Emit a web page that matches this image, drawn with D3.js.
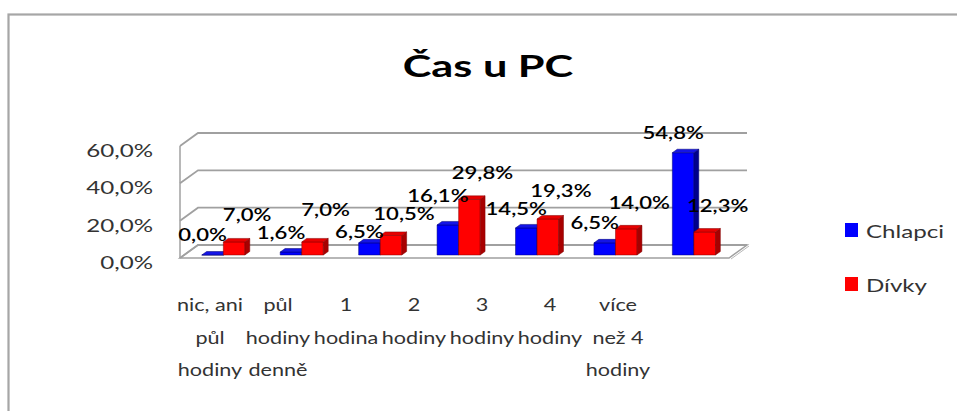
<!DOCTYPE html>
<html lang="cs">
<head>
<meta charset="utf-8">
<title>Čas u PC</title>
<script src="https://cdn.jsdelivr.net/npm/d3@7"></script>
<style>
    body { margin: 0; background: #fff; }
    text { font-family: Lato, "Open Sans", sans-serif; }
</style>
</head>
<body>
<script>
    // data
    const categoryLines = [
        ["nic, ani", "půl", "hodiny"],
        ["půl", "hodiny", "denně"],
        ["1", "hodina"],
        ["2", "hodiny"],
        ["3", "hodiny"],
        ["4", "hodiny"],
        ["více", "než 4", "hodiny"]
    ];
    const categories = categoryLines.map(l => l.join(" "));
    const seriesNames = ["Chlapci", "Dívky"];
    const chlapci = [0.0, 1.6, 6.5, 16.1, 14.5, 6.5, 54.8];
    const divky = [7.0, 7.0, 10.5, 29.8, 19.3, 14.0, 12.3];
    const yTicks = [0, 20, 40, 60];

    const W = 957, H = 411;

    const series = [
        {name: seriesNames[0], values: chlapci, front: "#0000ff", side: "#00008c", top: "#1414e6", edge: "#000070", lx: -10, ly: -20},
        {name: seriesNames[1], values: divky, front: "#ff0000", side: "#a80000", top: "#e60000", edge: "#800000", lx: 13, ly: -26}
    ];

    const fmt = v => d3.format(".1f")(v).replace(".", ",") + "%";

    const svg = d3.select("body").append("svg")
        .attr("width", W)
        .attr("height", H);

    // chart frame (cut off at right and bottom)
    svg.append("rect")
        .attr("x", 8.5).attr("y", 14.5)
        .attr("width", 1100).attr("height", 600)
        .attr("fill", "#fff")
        .attr("stroke", "#a6a6a6")
        .attr("stroke-width", 2.2);

    // the picture's text is stretched sideways, so every text gets a scale
    function stretched(g, x, y, str, sx) {
        return g.append("text")
            .attr("transform", `translate(${x},${y}) scale(${sx},1)`)
            .text(str);
    }

    // title
    stretched(svg, 488, 77, "Čas u PC", 1.42)
        .attr("text-anchor", "middle")
        .attr("font-size", 30.5)
        .attr("font-weight", "bold")
        .attr("fill", "#000");

    // scales
    const x = d3.scaleBand().domain(d3.range(categories.length))
        .range([180, 729]).paddingInner(0.45).paddingOuter(0.225);
    const xs = d3.scaleBand().domain(seriesNames).range([0, x.bandwidth()]);
    const y = d3.scaleLinear().domain([0, 60]).range([258, 146]);
    const depth = {dx: 18, dy: -13};
    const P = (px, v, f) => [px + f * depth.dx, y(v) + f * depth.dy];
    const line = d3.line();

    const plot = svg.append("g");
    const x0 = x.range()[0], x1 = x.range()[1];

    // floor
    const floorPts = [P(x0, 0, 0), P(x1, 0, 0), P(x1, 0, 1), P(x0, 0, 1)];
    plot.append("path")
        .attr("d", line(floorPts) + "Z")
        .attr("fill", "#fff")
        .attr("stroke", "#a0a0a0")
        .attr("stroke-width", 1.5);
    plot.append("path")
        .attr("d", line([P(x1, 0, 0), P(x1, 0, 1)].map(p => [p[0] + 2, p[1] + 1])))
        .attr("stroke", "#b8b8b8")
        .attr("fill", "none");

    // left wall edge and grid lines on walls
    plot.append("path")
        .attr("d", line([P(x0, 0, 0), P(x0, 60, 0)]))
        .attr("stroke", "#a0a0a0")
        .attr("stroke-width", 1.5);
    yTicks.forEach(t => {
        plot.append("path")
            .attr("d", line([P(x0, t, 0), P(x0, t, 1), P(x1, t, 1)]))
            .attr("fill", "none")
            .attr("stroke", "#a0a0a0")
            .attr("stroke-width", 1.8);
    });

    // y axis labels
    yTicks.forEach(t => {
        stretched(svg, 153, y(t) + 11, fmt(t), 1.42)
            .attr("text-anchor", "end")
            .attr("font-size", 17)
            .attr("fill", "#333");
    });

    // bars
    const f0 = 0.23, f1 = 0.5;
    categories.forEach((c, i) => {
        series.forEach(s => {
            const v = s.values[i];
            const bx0 = x(i) + xs(s.name), bx1 = bx0 + xs.bandwidth();
            const g = plot.append("g");
            g.append("path")
                .attr("d", line([P(bx0, v, f0), P(bx1, v, f0), P(bx1, 0, f0), P(bx0, 0, f0)]) + "Z")
                .attr("fill", s.front).attr("stroke", s.edge).attr("stroke-width", 0.5);
            g.append("path")
                .attr("d", line([P(bx1, v, f0), P(bx1, v, f1), P(bx1, 0, f1), P(bx1, 0, f0)]) + "Z")
                .attr("fill", s.side).attr("stroke", s.edge).attr("stroke-width", 0.5);
            g.append("path")
                .attr("d", line([P(bx0, v, f0), P(bx1, v, f0), P(bx1, v, f1), P(bx0, v, f1)]) + "Z")
                .attr("fill", s.top).attr("stroke", s.edge).attr("stroke-width", 0.5);
        });
    });

    // data labels: start above each bar, then push overlapping ones apart vertically
    const labels = [];
    categories.forEach((c, i) => {
        series.forEach(s => {
            const v = s.values[i];
            const p = P(x(i) + xs(s.name) + xs.bandwidth() / 2, v, f0);
            const t = stretched(svg, 0, 0, fmt(v), 1.3)
                .attr("text-anchor", "middle")
                .attr("font-size", 17)
                .attr("font-weight", 600)
                .attr("fill", "#000");
            labels.push({el: t, x: p[0] + s.lx, y: p[1] + s.ly, w: t.node().getComputedTextLength() * 1.3});
        });
    });
    const lh = 18;
    for (let it = 0; it < 40; it++) {
        labels.forEach((a, ai) => labels.forEach((b, bi) => {
            if (bi <= ai) return;
            const ox = (a.w + b.w) / 2 - Math.abs(a.x - b.x);
            const dy = b.y - a.y;
            if (ox > 2 && Math.abs(dy) < lh) {
                const push = (lh - Math.abs(dy)) / 2;
                if (dy >= 0) { a.y -= push; b.y += push; } else { a.y += push; b.y -= push; }
            }
        }));
    }
    labels.forEach(l => l.el.attr("transform", `translate(${l.x},${l.y + 6}) scale(1.3,1)`));

    // category labels
    const xl = d3.scaleBand().domain(d3.range(categories.length)).range([176, 652]);
    categoryLines.forEach((lines, i) => {
        lines.forEach((l, k) => {
            stretched(svg, xl(i) + xl.bandwidth() / 2, 311 + k * 32.5, l, 1.27)
                .attr("text-anchor", "middle")
                .attr("font-size", 17)
                .attr("fill", "#333");
        });
    });

    // legend
    const legend = svg.append("g");
    series.forEach((s, k) => {
        const ly = 223 + k * 54;
        legend.append("rect")
            .attr("x", 845).attr("y", ly)
            .attr("width", 13).attr("height", 14)
            .attr("fill", s.front);
        stretched(legend, 866, ly + 15, s.name, 1.42)
            .attr("font-size", 17)
            .attr("fill", "#333");
    });
</script>
</body>
</html>
